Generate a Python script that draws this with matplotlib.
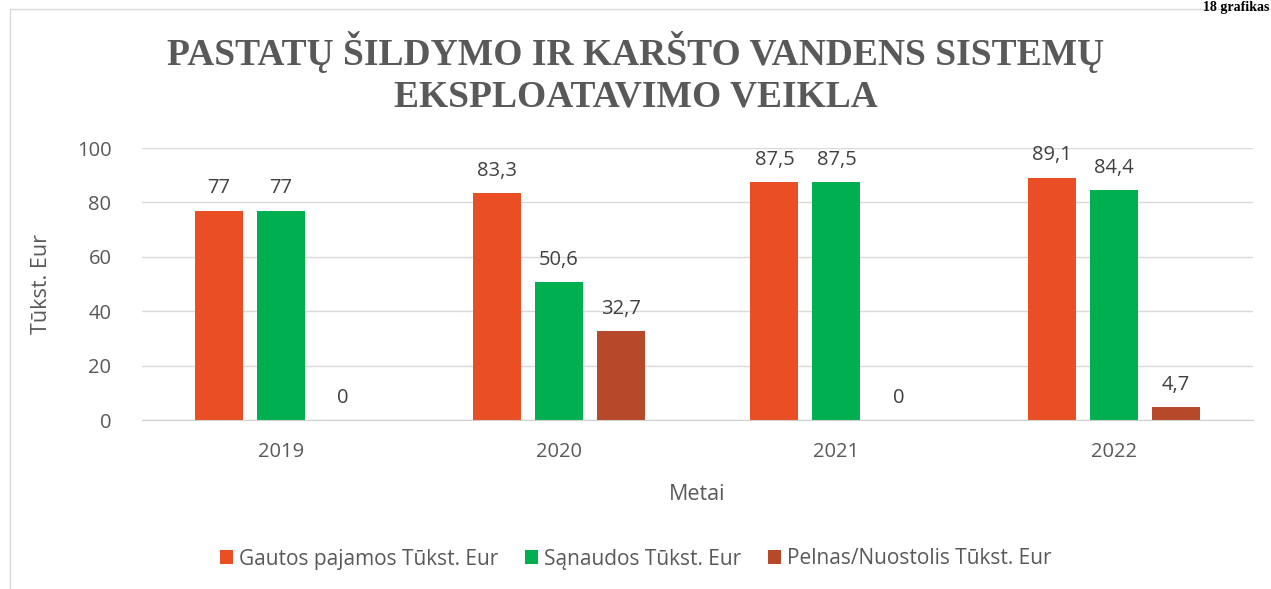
import numpy as np
import matplotlib
matplotlib.use("Agg")
import matplotlib.pyplot as plt
from matplotlib.lines import Line2D

years = ["2019", "2020", "2021", "2022"]
pajamos = [77, 83.3, 87.5, 89.1]
sanaudos = [77, 50.6, 87.5, 84.4]
pelnas = [0, 32.7, 0, 4.7]
series_names = ["Gautos pajamos Tūkst. Eur", "Sąnaudos Tūkst. Eur", "Pelnas/Nuostolis Tūkst. Eur"]
colors = ["#E94E24", "#00B050", "#B5492A"]

plt.rcParams['font.family'] = ['Open Sans', 'DejaVu Sans']
gray = "#595959"

fig = plt.figure(figsize=(12.71, 5.89), dpi=100)
ax = fig.add_axes([142 / 1271, 1 - 420 / 589, (1253 - 142) / 1271, (420 - 148) / 589])

x = np.arange(len(years))
width = 0.173
offsets = [-0.223, 0, 0.223]
for vals, name, col, off in zip([pajamos, sanaudos, pelnas], series_names, colors, offsets):
    bars = ax.bar(x + off, vals, width, color=col, label=name, zorder=3)
    for b, v in zip(bars, vals):
        lbl = ("%g" % v).replace(".", ",")
        ax.text(b.get_x() + b.get_width() / 2, v + 4.5, lbl, ha="center", va="bottom",
                fontsize=14.5, color="#404040")

ax.set_xlim(-0.5, 3.5)
ax.set_ylim(0, 100)
ax.set_yticks(range(0, 101, 20))
ax.set_xticks(x)
ax.set_xticklabels(years)
ax.grid(axis="y", color="#D9D9D9", linewidth=1, zorder=0)
ax.tick_params(length=0, labelsize=14.5, labelcolor=gray)
ax.tick_params(axis="x", pad=16)
ax.tick_params(axis="y", pad=22)
for s in ["top", "right", "left"]:
    ax.spines[s].set_visible(False)
ax.spines["bottom"].set_color("#D0D0D0")
ax.spines["bottom"].set_zorder(4)
ax.set_ylabel("Tūkst. Eur", fontsize=15.5, color=gray, labelpad=18)
ax.set_xlabel("Metai", fontsize=15.5, color=gray, labelpad=16)

fig.text(0.5, 1 - 73 / 589, "PASTATŲ ŠILDYMO IR KARŠTO VANDENS SISTEMŲ\nEKSPLOATAVIMO VEIKLA",
         ha="center", va="center", fontsize=27, fontweight="bold", color=gray,
         family=["Liberation Serif"], linespacing=1.25)

fig.legend(loc="center", bbox_to_anchor=(0.5, 1 - 559 / 589), ncol=3, frameon=False,
           fontsize=15, handlelength=0.65, handleheight=0.65, handletextpad=0.25,
           columnspacing=1.3, labelcolor=gray)

# chart border (partly cut off) and caption at top right
fig.add_artist(Line2D([10 / 1271, 10 / 1271], [0, 1 - 9 / 589], color="#D9D9D9", lw=1))
fig.add_artist(Line2D([10 / 1271, 1], [1 - 9 / 589, 1 - 9 / 589], color="#D9D9D9", lw=1))
fig.text(1 - 2 / 1271, 1 - 0.5 / 589, "18 grafikas", ha="right", va="top", fontsize=10,
         fontweight="bold", family=["Liberation Serif"], color="black")

fig.savefig("out.png", dpi=100)
